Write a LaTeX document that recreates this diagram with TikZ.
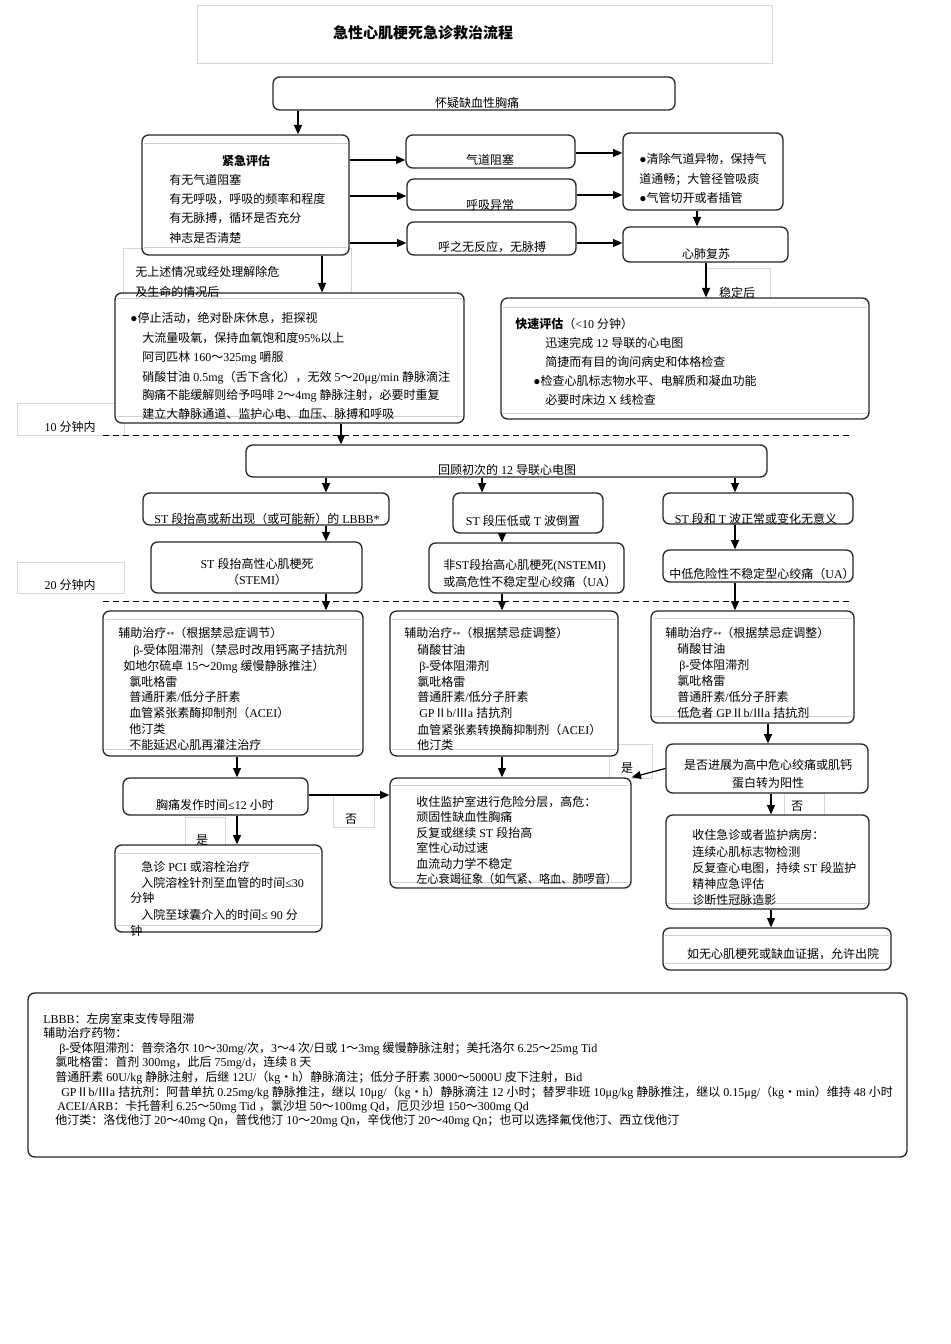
\documentclass[tikz,border=0pt]{standalone}
\usepackage{fontspec}
\usepackage{graphicx}
\setmainfont{Liberation Serif}
\newfontfamily\cjkfont{Noto Sans CJK SC}
\newXeTeXintercharclass\cjkcls
\newcount\cjkcnt
\def\setcjkrange#1#2{\cjkcnt=#1\relax
  \loop\XeTeXcharclass\cjkcnt=\cjkcls\relax
  \ifnum\cjkcnt<#2\relax\advance\cjkcnt by 1\relax\repeat}
\setcjkrange{"2E80}{"9FFF}
\setcjkrange{"FF00}{"FFEF}
\setcjkrange{"2160}{"217F}
\XeTeXinterchartoks 0 \cjkcls = {\cjkfont}
\XeTeXinterchartoks 4095 \cjkcls = {\cjkfont}
\XeTeXinterchartoks \cjkcls 0 = {\rmfamily}
\XeTeXinterchartoks \cjkcls 4095 = {\rmfamily}
\XeTeXinterchartokenstate=1
\usetikzlibrary{arrows.meta}
\definecolor{boxline}{HTML}{262626}
\definecolor{lightline}{HTML}{CFCFCF}
\definecolor{labline}{HTML}{D6D6D6}
\tikzset{
  bxs/.style={draw=boxline, line width=1pt, rounded corners=5pt, fill=white, inner sep=0pt},
  lab/.style={draw=labline, line width=0.5pt, inner sep=0pt},
  arr/.style={draw=black, line width=0.9pt, -{Triangle[length=7pt,width=6pt]}},
  inl/.style={draw=lightline, line width=0.6pt},
  dsh/.style={draw=black, line width=0.6pt, dash pattern=on 4.5pt off 3pt},
  tl/.style={anchor=base west, inner sep=0pt, font=\fontsize{9}{11}\selectfont},
  tc/.style={anchor=base, inner sep=0pt, font=\fontsize{9}{11}\selectfont},
}
\newcommand\bx[6]{\node[#6, minimum width={(#4-#2)*0.75pt}, minimum height={(#5-#3)*0.75pt}] (#1) at ({(#2+#4)/2},{(#3+#5)/2}) {};}
\newcommand\txl[4]{\node[tl] (#1) at (#2,#3) {#4};}
\newcommand\txc[4]{\node[tc] (#1) at (#2,#3) {#4};}
\newcommand\twostar{{\fontsize{6}{6}\selectfont **}}
\begin{document}
\begin{tikzpicture}[x=0.75pt,y=-0.75pt]
\useasboundingbox (0,0) rectangle (950,1344);
\fill[white] (0,0) rectangle (950,1344);
% column / row coordinates
\coordinate (x298) at (298,0);
\coordinate (x322) at (322,0);
\coordinate (x326) at (326,0);
\coordinate (x341) at (341,0);
\coordinate (x482) at (482,0);
\coordinate (x502) at (502,0);
\coordinate (x697) at (697,0);
\coordinate (x706) at (706,0);
\coordinate (x735) at (735,0);
\coordinate (x237) at (237,0);
\coordinate (x768) at (768,0);
\coordinate (x771) at (771,0);
\coordinate (y160) at (0,160);
\coordinate (y196) at (0,196);
\coordinate (y243) at (0,243);
\coordinate (y153) at (0,153);
\coordinate (y195) at (0,195);
\coordinate (y795) at (0,795);
% light label boxes
\bx{tbox}{197}{5}{772}{63}{lab}
\bx{lab1}{123}{248}{351}{300}{lab}
\bx{lab10}{17}{403}{124}{435}{lab}
\bx{lab20}{17}{562}{124}{593}{lab}
\bx{labst}{706}{268}{770}{298}{lab}
\bx{labYa}{609}{744}{652}{778}{lab}
\bx{labNb}{784}{793}{824}{815}{lab}
\bx{labNa}{333}{795}{374}{827}{lab}
\bx{labYb}{185}{817}{225}{845}{lab}
% dashed time lines
\draw[dsh] (103,435) -- (852,435);
\draw[dsh] (103,601) -- (852,601);
% boxes
\bx{A}{273}{77}{675}{110}{bxs}
\bx{B}{142}{135}{349}{255}{bxs}
\bx{C1}{406}{135}{575}{168}{bxs}
\bx{C2}{407}{179}{576}{210}{bxs}
\bx{C3}{407}{222}{576}{255}{bxs}
\bx{D1}{623}{133}{783}{210}{bxs}
\bx{D2}{623}{227}{788}{262}{bxs}
\bx{F}{115}{293}{464}{423}{bxs}
\bx{E}{501}{298}{869}{419}{bxs}
\bx{G}{246}{445}{767}{477}{bxs}
\bx{H1}{143}{493}{389}{525}{bxs}
\bx{H2}{453}{493}{603}{533}{bxs}
\bx{H3}{663}{493}{853}{524}{bxs}
\bx{I1}{151}{542}{362}{593}{bxs}
\bx{I2}{429}{543}{624}{593}{bxs}
\bx{I3}{663}{550}{853}{582}{bxs}
\bx{J1}{103}{611}{363}{756}{bxs}
\bx{J2}{390}{611}{618}{756}{bxs}
\bx{J3}{651}{611}{854}{723}{bxs}
\bx{K1}{123}{778}{308}{815}{bxs}
\bx{K2}{115}{845}{322}{932}{bxs}
\bx{L}{390}{778}{631}{888}{bxs}
\bx{M}{666}{744}{868}{793}{bxs}
\bx{N}{666}{815}{869}{909}{bxs}
\bx{O}{663}{928}{891}{970}{bxs}
\bx{LEG}{28}{993}{907}{1157}{bxs}
% inner light lines of the text boxes
\draw[inl] (144,143) -- (347,143);
\draw[inl] (144,247) -- (347,247);
\draw[inl] (117,298) -- (462,298);
\draw[inl] (117,416) -- (462,416);
\draw[inl] (503,307) -- (867,307);
\draw[inl] (503,413) -- (867,413);
\draw[inl] (105,619) -- (361,619);
\draw[inl] (105,749) -- (361,749);
\draw[inl] (392,619) -- (616,619);
\draw[inl] (392,749) -- (616,749);
\draw[inl] (653,618) -- (852,618);
\draw[inl] (653,716) -- (852,716);
\draw[inl] (117,853) -- (320,853);
\draw[inl] (117,925) -- (320,925);
\draw[inl] (392,785) -- (629,785);
\draw[inl] (392,882) -- (629,882);
\draw[inl] (668,903) -- (867,903);
\draw[inl] (665,935) -- (889,935);
\draw[inl] (665,963) -- (889,963);
% connectors
\draw[arr] (A.south -| x298) -- (B.north -| x298);
\draw[arr] (B.east |- y160) -- (C1.west |- y160);
\draw[arr] (B.east |- y196) -- (C2.west |- y196);
\draw[arr] (B.east |- y243) -- (C3.west |- y243);
\draw[arr] (B.south -| x322) -- (F.north -| x322);
\draw[arr] (C1.east |- y153) -- (D1.west |- y153);
\draw[arr] (C2.east |- y195) -- (D1.west |- y195);
\draw[arr] (C3.east |- y243) -- (D2.west |- y243);
\draw[arr] (D1.south -| x697) -- (D2.north -| x697);
\draw[arr] (D2.south -| x706) -- (E.north -| x706);
\draw[arr] (F.south -| x341) -- (G.north -| x341);
\draw[arr] (G.south -| x326) -- (H1.north -| x326);
\draw[arr] (G.south -| x482) -- (H2.north -| x482);
\draw[arr] (G.south -| x735) -- (H3.north -| x735);
\draw[arr] (H1.south -| x326) -- (I1.north -| x326);
\draw[arr] (H2.south -| x502) -- (I2.north -| x502);
\draw[arr] (H3.south -| x735) -- (I3.north -| x735);
\draw[arr] (I1.south -| x326) -- (J1.north -| x326);
\draw[arr] (I2.south -| x502) -- (J2.north -| x502);
\draw[arr] (I3.south -| x735) -- (J3.north -| x735);
\draw[arr] (J1.south -| x237) -- (K1.north -| x237);
\draw[arr] (J2.south -| x502) -- (L.north -| x502);
\draw[arr] (J3.south -| x768) -- (M.north -| x768);
\draw[arr] (K1.south -| x237) -- (K2.north -| x237);
\draw[arr] (K1.east |- y795) -- (L.west |- y795);
\draw[arr] (M.west) -- (L.north east);
\draw[arr] (M.south -| x771) -- (N.north -| x771);
\draw[arr] (N.south -| x771) -- (O.north -| x771);
% title
\node[anchor=base, inner sep=0pt, font=\fontsize{11.25}{13}\selectfont\bfseries] (ttl) at (423,39) {急性心肌梗死急诊救治流程};
% texts
\txc{tA}{477}{107.5}{怀疑缺血性胸痛}
\node[tc, font=\fontsize{9}{11}\selectfont\bfseries] (tB0) at (246,165.5) {紧急评估};
\txl{tB1}{169}{184.5}{有无气道阻塞}
\txl{tB2}{169}{203.5}{有无呼吸，呼吸的频率和程度}
\txl{tB3}{169}{222.5}{有无脉搏，循环是否充分}
\txl{tB4}{169}{242.5}{神志是否清楚}
\txc{tC1}{490}{164.5}{气道阻塞}
\txc{tC2}{490}{209.5}{呼吸异常}
\txc{tC3}{492}{251.5}{呼之无反应，无脉搏}
\txl{tD1a}{639}{163.5}{●清除气道异物，保持气}
\txl{tD1b}{639}{183.5}{道通畅；大管径管吸痰}
\txl{tD1c}{639}{202.5}{●气管切开或者插管}
\txc{tD2}{706}{258.5}{心肺复苏}
\txl{tl1a}{135}{276.5}{无上述情况或经处理解除危}
\txl{tl1b}{135}{296.5}{及生命的情况后}
\txc{tst}{737}{297.5}{稳定后}
\txl{tF1}{130}{322.5}{●停止活动，绝对卧床休息，拒探视}
\txl{tF2}{142}{342.5}{大流量吸氧，保持血氧饱和度95\%以上}
\txl{tF3}{142}{361.5}{阿司匹林 160～325mg 嚼服}
\txl{tF4}{142}{381.5}{硝酸甘油 0.5mg（舌下含化），无效 5～20μg/min 静脉滴注}
\txl{tF5}{142}{399.5}{胸痛不能缓解则给予吗啡 2～4mg 静脉注射，必要时重复}
\txl{tF6}{142}{418.5}{建立大静脉通道、监护心电、血压、脉搏和呼吸}
\txl{tE1}{515}{328.5}{{\bfseries 快速评估}（<10 分钟）}
\txl{tE2}{545}{347.5}{迅速完成 12 导联的心电图}
\txl{tE3}{545}{366.5}{简捷而有目的询问病史和体格检查}
\txl{tE4}{533}{385.5}{●检查心肌标志物水平、电解质和凝血功能}
\txl{tE5}{545}{404.5}{必要时床边 X 线检查}
\txc{tl10}{70}{431.5}{10 分钟内}
\txc{tG}{507}{474.5}{回顾初次的 12 导联心电图}
\txc{tH1}{267}{523.5}{ST 段抬高或新出现（或可能新）的 LBBB*}
\txc{tH2}{523}{525.5}{ST 段压低或 T 波倒置}
\txc{tH3}{756}{523.5}{ST 段和 T 波正常或变化无意义}
\txc{tI1a}{257}{568.5}{ST 段抬高性心肌梗死}
\txc{tI1b}{257}{584.5}{（STEMI）}
\txl{tI2a}{443}{569.5}{非ST段抬高心肌梗死(NSTEMI)}
\txl{tI2b}{443}{586.5}{或高危性不稳定型心绞痛（UA）}
\txc{tI3}{762}{578.5}{中低危险性不稳定型心绞痛（UA）}
\txc{tl20}{70}{589.5}{20 分钟内}
\txl{tJ1a}{118}{637.5}{辅助治疗\twostar（根据禁忌症调节）}
\txl{tJ1b}{133}{654.5}{β-受体阻滞剂（禁忌时改用钙离子拮抗剂}
\txl{tJ1c}{123}{670.5}{如地尔硫卓 15～20mg 缓慢静脉推注）}
\txl{tJ1d}{129}{686.5}{氯吡格雷}
\txl{tJ1e}{129}{701.5}{普通肝素/低分子肝素}
\txl{tJ1f}{129}{717.5}{血管紧张素酶抑制剂（ACEI）}
\txl{tJ1g}{129}{733.5}{他汀类}
\txl{tJ1h}{129}{749.5}{不能延迟心肌再灌注治疗}
\txl{tJ2a}{404}{637.5}{辅助治疗\twostar（根据禁忌症调整）}
\txl{tJ2b}{417}{654.5}{硝酸甘油}
\txl{tJ2c}{419}{670.5}{β-受体阻滞剂}
\txl{tJ2d}{417}{686.5}{氯吡格雷}
\txl{tJ2e}{417}{701.5}{普通肝素/低分子肝素}
\txl{tJ2f}{419}{717.5}{GPⅡb/Ⅲa 拮抗剂}
\txl{tJ2g}{417}{734.5}{血管紧张素转换酶抑制剂（ACEI）}
\txl{tJ2h}{417}{749.5}{他汀类}
\txl{tJ3a}{665}{637.5}{辅助治疗\twostar（根据禁忌症调整）}
\txl{tJ3b}{677}{653.5}{硝酸甘油}
\txl{tJ3c}{679}{669.5}{β-受体阻滞剂}
\txl{tJ3d}{677}{685.5}{氯吡格雷}
\txl{tJ3e}{677}{701.5}{普通肝素/低分子肝素}
\txl{tJ3f}{677}{717.5}{低危者 GPⅡb/Ⅲa 拮抗剂}
\txc{tK1}{215}{809.5}{胸痛发作时间≤12 小时}
\txl{tK2a}{141}{871.5}{急诊 PCI 或溶栓治疗}
\txl{tK2b}{141}{887.5}{入院溶栓针剂至血管的时间≤30}
\txl{tK2c}{130}{902.5}{分钟}
\txl{tK2d}{141}{919.5}{入院至球囊介入的时间≤ 90 分}
\txl{tK2e}{130}{935.5}{钟}
\txl{tL1}{416}{806.5}{收住监护室进行危险分层，高危：}
\txl{tL2}{416}{821.5}{顽固性缺血性胸痛}
\txl{tL3}{416}{837.5}{反复或继续 ST 段抬高}
\txl{tL4}{416}{852.5}{室性心动过速}
\txl{tL5}{416}{868.5}{血流动力学不稳定}
\txl{tL6}{416}{883.5}{\scalebox{0.93}[1]{左心衰竭征象（如气紧、咯血、肺啰音）}}
\txc{tM1}{768}{769.5}{是否进展为高中危心绞痛或肌钙}
\txc{tM2}{768}{787.5}{蛋白转为阳性}
\txl{tN1}{692}{839.5}{收住急诊或者监护病房：}
\txl{tN2}{692}{856.5}{连续心肌标志物检测}
\txl{tN3}{692}{872.5}{反复查心电图，持续 ST 段监护}
\txl{tN4}{692}{888.5}{精神应急评估}
\txl{tN5}{692}{904.5}{诊断性冠脉造影}
\txc{tO}{783}{958.5}{如无心肌梗死或缺血证据，允许出院}
\txc{tYa}{627}{772.5}{是}
\txc{tNb}{797}{810.5}{否}
\txc{tNa}{351}{823.5}{否}
\txc{tYb}{202}{844.5}{是}
% legend
\txl{tg1}{43}{1023.5}{LBBB：左房室束支传导阻滞}
\txl{tg2}{43}{1037.5}{辅助治疗药物：}
\txl{tg3}{59}{1052.5}{β-受体阻滞剂：普奈洛尔 10～30mg/次，3～4 次/日或 1～3mg 缓慢静脉注射；美托洛尔 6.25～25mg Tid}
\txl{tg4}{55}{1066.5}{氯吡格雷：首剂 300mg，此后 75mg/d，连续 8 天}
\txl{tg5}{55}{1081.5}{普通肝素 60U/kg 静脉注射，后继 12U/（kg・h）静脉滴注；低分子肝素 3000～5000U 皮下注射，Bid}
\txl{tg6}{61}{1096.5}{GPⅡb/Ⅲa 拮抗剂：阿昔单抗 0.25mg/kg 静脉推注，继以 10μg/（kg・h）静脉滴注 12 小时；替罗非班 10μg/kg 静脉推注，继以 0.15μg/（kg・min）维持 48 小时}
\txl{tg7}{57}{1110.5}{ACEI/ARB：卡托普利 6.25～50mg Tid ，氯沙坦 50～100mg Qd，厄贝沙坦 150～300mg Qd}
\txl{tg8}{55}{1124.5}{他汀类：洛伐他汀 20～40mg Qn，普伐他汀 10～20mg Qn，辛伐他汀 20～40mg Qn；也可以选择氟伐他汀、西立伐他汀}
\end{tikzpicture}
\end{document}
